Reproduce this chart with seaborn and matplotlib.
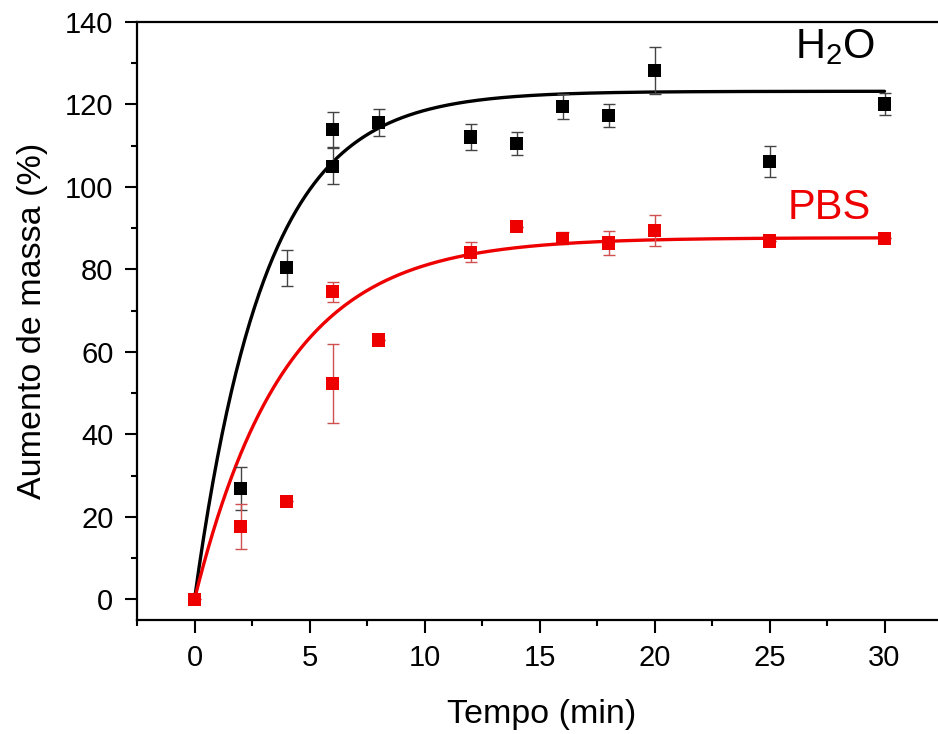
import numpy as np
import pandas as pd
import matplotlib
matplotlib.use("Agg")
import matplotlib.pyplot as plt
import seaborn as sns
from matplotlib.ticker import MultipleLocator

# ── Data ──
h2o_time = [2, 4, 6, 6, 8, 12, 14, 16, 18, 20, 25, 30]
h2o_mass = [26.9, 80.4, 113.9, 105.0, 115.6, 112.1, 110.5, 119.6, 117.4, 128.3, 106.1, 120.1]
h2o_err = [5.2, 4.4, 4.2, 4.4, 3.2, 3.2, 2.8, 3.0, 2.8, 5.7, 3.8, 2.7]

pbs_time = [0, 2, 4, 6, 6, 8, 12, 14, 16, 18, 20, 25, 30]
pbs_mass = [0.0, 17.6, 23.8, 52.4, 74.6, 62.9, 84.2, 90.4, 87.6, 86.4, 89.4, 86.9, 87.6]
pbs_err = [0.0, 5.5, 0.0, 9.6, 2.4, 0.0, 2.4, 0.0, 1.5, 3.0, 3.8, 0.0, 0.0]

# exponential fits y = A * (1 - exp(-t / tau))
h2o_fit_A, h2o_fit_tau = 123.2, 3.05
pbs_fit_A, pbs_fit_tau = 87.7, 3.9

BLACK = "#000000"
RED = "#ee0000"

sns.set_style("ticks")
plt.rcParams["font.family"] = ["Liberation Sans", "DejaVu Sans"]
plt.rcParams["mathtext.fontset"] = "custom"
plt.rcParams["mathtext.rm"] = "Liberation Sans"
plt.rcParams["mathtext.default"] = "rm"
plt.rcParams["text.color"] = BLACK
plt.rcParams["axes.labelcolor"] = BLACK
plt.rcParams["xtick.color"] = BLACK
plt.rcParams["ytick.color"] = BLACK

fig = plt.figure(figsize=(9.38, 7.34), dpi=100)
# right spine sits just past the cropped edge, as in the reference
ax = fig.add_axes([137 / 938, (734 - 620) / 734, (946.6 - 137) / 938, (620 - 22) / 734])

t_fit = np.linspace(0, 30, 300)
fits = pd.DataFrame({
    "t": np.concatenate([t_fit, t_fit]),
    "y": np.concatenate([h2o_fit_A * (1 - np.exp(-t_fit / h2o_fit_tau)),
                         pbs_fit_A * (1 - np.exp(-t_fit / pbs_fit_tau))]),
    "serie": ["H2O"] * len(t_fit) + ["PBS"] * len(t_fit),
})
sns.lineplot(data=fits, x="t", y="y", hue="serie", palette={"H2O": BLACK, "PBS": RED},
             linewidth=2.4, legend=False, ax=ax, zorder=2)

# error bars
ax.errorbar(h2o_time, h2o_mass, yerr=h2o_err, fmt="none", ecolor="#444444",
            elinewidth=1.0, capsize=4.5, capthick=1.0, zorder=3)
ax.errorbar(pbs_time, pbs_mass, yerr=pbs_err, fmt="none", ecolor="#d05050",
            elinewidth=1.0, capsize=4.5, capthick=1.0, zorder=3)

pts = pd.DataFrame({
    "t": h2o_time + pbs_time,
    "m": h2o_mass + pbs_mass,
    "serie": ["H2O"] * len(h2o_time) + ["PBS"] * len(pbs_time),
})
sns.scatterplot(data=pts, x="t", y="m", hue="serie", palette={"H2O": BLACK, "PBS": RED},
                marker="s", s=90, linewidth=0, legend=False, ax=ax, zorder=4)

ax.text(26.1, 131.3, r"H$_2$O", fontsize=30, color=BLACK, ha="left", va="baseline")
ax.text(25.8, 92.2, "PBS", fontsize=30, color=RED, ha="left", va="baseline")

ax.set_xlim(-2.5, 32.7)
ax.set_ylim(-5, 140)
ax.xaxis.set_major_locator(MultipleLocator(5))
ax.xaxis.set_minor_locator(MultipleLocator(2.5))
ax.yaxis.set_major_locator(MultipleLocator(20))
ax.yaxis.set_minor_locator(MultipleLocator(10))
ax.tick_params(which="major", direction="out", length=9, width=1.5, labelsize=21, pad=8,
               color=BLACK, labelcolor=BLACK)
ax.tick_params(which="minor", direction="out", length=4.5, width=1.5, color=BLACK)

for sp in ax.spines.values():
    sp.set_linewidth(1.6)
    sp.set_color(BLACK)

ax.set_xlabel("Tempo (min)", fontsize=24.5, labelpad=20, color=BLACK)
ax.set_ylabel("Aumento de massa (%)", fontsize=24.5, labelpad=12, color=BLACK)

fig.savefig("out.png", dpi=100)
